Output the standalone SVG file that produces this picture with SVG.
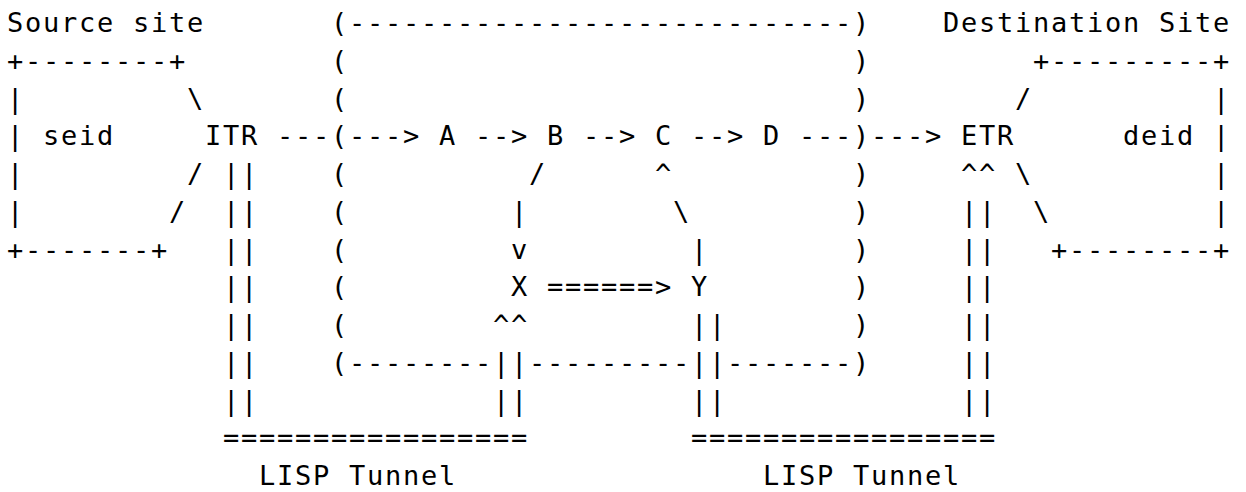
<svg xmlns="http://www.w3.org/2000/svg" width="1246" height="492" viewBox="0 0 1246 492">
<style>
text{font-family:"DejaVu Sans Mono","Liberation Mono",monospace;font-size:27px;letter-spacing:1.75px;fill:#000;white-space:pre}
</style>
<rect width="1246" height="492" fill="#fff"/>
<g transform="translate(-0.4,0)">
<g id="source-site">
<text x="7.3" y="32">Source site</text>
<text x="7.3" y="69.75">+--------+</text>
<text x="7.3" y="107.5">|</text>
<text x="7.3" y="145.25">|</text>
<text x="43.3" y="145.25">seid</text>
<text x="7.3" y="183">|</text>
<text x="7.3" y="220.75">|</text>
<text x="7.3" y="258.5">+-------+</text>
</g>
<g id="itr"><text x="205.3" y="145.25">ITR</text></g>
<g id="core-network">
<text x="331.3" y="32">(----------------------------)</text>
<text x="331.3" y="69.75">(</text><text x="853.3" y="69.75">)</text>
<text x="331.3" y="107.5">(</text><text x="853.3" y="107.5">)</text>
<text x="331.3" y="145.25">(</text><text x="853.3" y="145.25">)</text>
<text x="331.3" y="183">(</text><text x="853.3" y="183">)</text>
<text x="331.3" y="220.75">(</text><text x="853.3" y="220.75">)</text>
<text x="331.3" y="258.5">(</text><text x="853.3" y="258.5">)</text>
<text x="331.3" y="296.25">(</text><text x="853.3" y="296.25">)</text>
<text x="331.3" y="334">(</text><text x="853.3" y="334">)</text>
<text x="331.3" y="371.75">(--------</text>
<text x="529.3" y="371.75">---------</text>
<text x="727.3" y="371.75">-------)</text>
</g>
<g id="node-a"><text x="439.3" y="145.25">A</text></g>
<g id="node-b"><text x="547.3" y="145.25">B</text></g>
<g id="node-c"><text x="655.3" y="145.25">C</text></g>
<g id="node-d"><text x="763.3" y="145.25">D</text></g>
<g id="node-x"><text x="511.3" y="296.25">X</text></g>
<g id="node-y"><text x="691.3" y="296.25">Y</text></g>
<g id="etr"><text x="961.3" y="145.25">ETR</text></g>
<g id="destination-site">
<text x="943.3" y="32">Destination Site</text>
<text x="1033.3" y="69.75">+---------+</text>
<text x="1213.3" y="107.5">|</text>
<text x="1123.3" y="145.25">deid</text>
<text x="1213.3" y="145.25">|</text>
<text x="1213.3" y="183">|</text>
<text x="1213.3" y="220.75">|</text>
<text x="1051.3" y="258.5">+--------+</text>
</g>
<g id="tunnel-1">
<text x="223.3" y="447.25">=================</text>
<text x="259.3" y="485">LISP Tunnel</text>
</g>
<g id="tunnel-2">
<text x="691.3" y="447.25">=================</text>
<text x="763.3" y="485">LISP Tunnel</text>
</g>
<g id="connectors">
<text x="187.3" y="107.5">\</text>
<text x="187.3" y="183">/</text>
<text x="169.3" y="220.75">/</text>
<text x="277.3" y="145.25">---</text>
<text x="349.3" y="145.25">---&gt;</text>
<text x="475.3" y="145.25">--&gt;</text>
<text x="583.3" y="145.25">--&gt;</text>
<text x="691.3" y="145.25">--&gt;</text>
<text x="799.3" y="145.25">---</text>
<text x="871.3" y="145.25">---&gt;</text>
<text x="529.3" y="183">/</text>
<text x="511.3" y="220.75">|</text>
<text x="511.3" y="258.5">v</text>
<text x="655.3" y="183">^</text>
<text x="673.3" y="220.75">\</text>
<text x="691.3" y="258.5">|</text>
<text x="547.3" y="296.25">======&gt;</text>
<text x="493.3" y="334">^^</text>
<text x="691.3" y="334">||</text>
<text x="493.3" y="371.75">||</text>
<text x="691.3" y="371.75">||</text>
<text x="493.3" y="409.5">||</text>
<text x="691.3" y="409.5">||</text>
<text x="223.3" y="183">||</text>
<text x="223.3" y="220.75">||</text>
<text x="223.3" y="258.5">||</text>
<text x="223.3" y="296.25">||</text>
<text x="223.3" y="334">||</text>
<text x="223.3" y="371.75">||</text>
<text x="223.3" y="409.5">||</text>
<text x="961.3" y="183">^^</text>
<text x="961.3" y="220.75">||</text>
<text x="961.3" y="258.5">||</text>
<text x="961.3" y="296.25">||</text>
<text x="961.3" y="334">||</text>
<text x="961.3" y="371.75">||</text>
<text x="961.3" y="409.5">||</text>
<text x="1015.3" y="107.5">/</text>
<text x="1015.3" y="183">\</text>
<text x="1033.3" y="220.75">\</text>
</g>
</g>
</svg>
